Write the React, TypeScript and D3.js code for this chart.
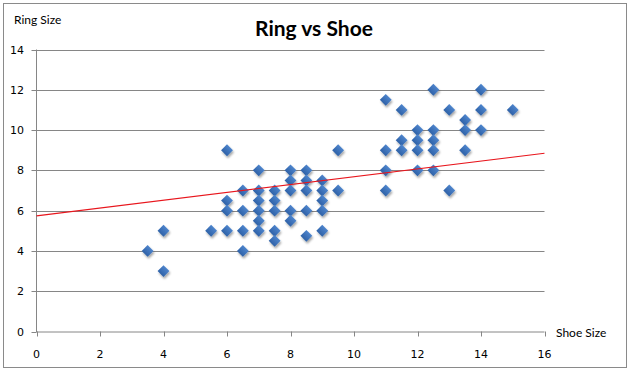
import React from "react";
import * as d3 from "d3";

const shoeSizes = [
  3.5, 4, 4, 5.5,
  6, 6, 6, 6,
  6.5, 6.5, 6.5, 6.5,
  7, 7, 7, 7, 7, 7,
  7.5, 7.5, 7.5, 7.5, 7.5,
  8, 8, 8, 8, 8,
  8.5, 8.5, 8.5, 8.5, 8.5,
  9, 9, 9, 9, 9,
  9.5, 9.5,
  11, 11, 11, 11,
  11.5, 11.5, 11.5,
  12, 12, 12, 12,
  12.5, 12.5, 12.5, 12.5, 12.5,
  13, 13,
  13.5, 13.5, 13.5,
  14, 14, 14,
  15,
];
const ringSizes = [
  4, 5, 3, 5,
  9, 6.5, 6, 5,
  7, 6, 5, 4,
  8, 7, 6.5, 6, 5.5, 5,
  7, 6.5, 6, 5, 4.5,
  8, 7.5, 7, 6, 5.5,
  8, 7.5, 7, 6, 4.75,
  7.5, 7, 6.5, 6, 5,
  9, 7,
  11.5, 9, 8, 7,
  11, 9.5, 9,
  10, 9.5, 9, 8,
  12, 10, 9.5, 9, 8,
  11, 7,
  10.5, 10, 9,
  12, 11, 10,
  11,
];
const xTicks = [0, 2, 4, 6, 8, 10, 12, 14, 16];
const yTicks = [0, 2, 4, 6, 8, 10, 12, 14];
const trendX = [0, 16];
const trendY = [5.74, 8.85];

const title = "Ring vs Shoe";
const yTitle = "Ring Size";
const xTitle = "Shoe Size";

export default function App() {
  const W = 630;
  const H = 373;
  const left = 36.5;
  const right = 544.5;
  const top = 49.5;
  const bottom = 331.5;
  const x = d3.scaleLinear().domain([0, 16]).range([left, right]);
  const y = d3.scaleLinear().domain([0, 14]).range([bottom, top]);
  const diamond = d3.symbol().type(d3.symbolSquare).size(70)()!;
  const line = d3
    .line<number>()
    .x((d) => x(d))
    .y((_, i) => y(trendY[i]));
  const tickFont = "Tahoma, 'DejaVu Sans', sans-serif";
  const labelFont = "Lato, 'Open Sans', sans-serif";

  return (
    <div style={{ position: "fixed", left: 0, top: 0 }}>
      <svg width={W} height={H} style={{ display: "block", background: "#fff" }}>
        <defs>
          <filter id="sh" x="-50%" y="-50%" width="200%" height="200%">
            <feDropShadow dx="1" dy="2" stdDeviation="1.3" floodColor="#000" floodOpacity="0.35" />
          </filter>
          <linearGradient id="dg" x1="0" y1="0" x2="0" y2="1">
            <stop offset="0" stopColor="#4d84cc" />
            <stop offset="1" stopColor="#2f62a8" />
          </linearGradient>
        </defs>
        <rect x={3.5} y={3.5} width={623} height={364} fill="#fff" stroke="#8a8a8a" strokeWidth={1} />
        <text
          x={314}
          y={36}
          textAnchor="middle"
          fontFamily={labelFont}
          fontWeight="bold"
          fontSize={21}
          fill="#000"
        >
          {title}
        </text>
        <text x={14} y={24} fontFamily={labelFont} fontSize={12} fill="#000">
          {yTitle}
        </text>
        <text x={556} y={337} fontFamily={labelFont} fontSize={12} fill="#000">
          {xTitle}
        </text>
        {yTicks.map((t) => (
          <g key={"y" + t}>
            {t > 0 && (
              <line x1={left} x2={right} y1={Math.round(y(t)) + 0.5} y2={Math.round(y(t)) + 0.5} stroke="#868686" />
            )}
            <line x1={left - 5} x2={left} y1={Math.round(y(t)) + 0.5} y2={Math.round(y(t)) + 0.5} stroke="#868686" />
            <text
              x={24}
              y={y(t) + 4}
              textAnchor="end"
              fontFamily={tickFont}
              fontSize={11}
              fill="#000"
            >
              {t}
            </text>
          </g>
        ))}
        <line x1={left} x2={left} y1={top} y2={bottom + 0.5} stroke="#868686" />
        <line x1={left} x2={right} y1={bottom + 0.5} y2={bottom + 0.5} stroke="#868686" />
        {xTicks.map((t) => (
          <g key={"x" + t}>
            <line x1={Math.round(x(t)) + 0.5} x2={Math.round(x(t)) + 0.5} y1={bottom} y2={bottom + 5} stroke="#868686" />
            <text
              x={x(t)}
              y={358}
              textAnchor="middle"
              fontFamily={tickFont}
              fontSize={11}
              fill="#000"
            >
              {t}
            </text>
          </g>
        ))}
        <g filter="url(#sh)">
          {shoeSizes.map((s, i) => (
            <path
              key={"p" + i}
              d={diamond}
              transform={`translate(${x(s)},${y(ringSizes[i])}) rotate(45)`}
              fill="url(#dg)"
            />
          ))}
        </g>
        <path d={line(trendX) || ""} fill="none" stroke="#e8161d" strokeWidth={1.1} />
      </svg>
    </div>
  );
}
